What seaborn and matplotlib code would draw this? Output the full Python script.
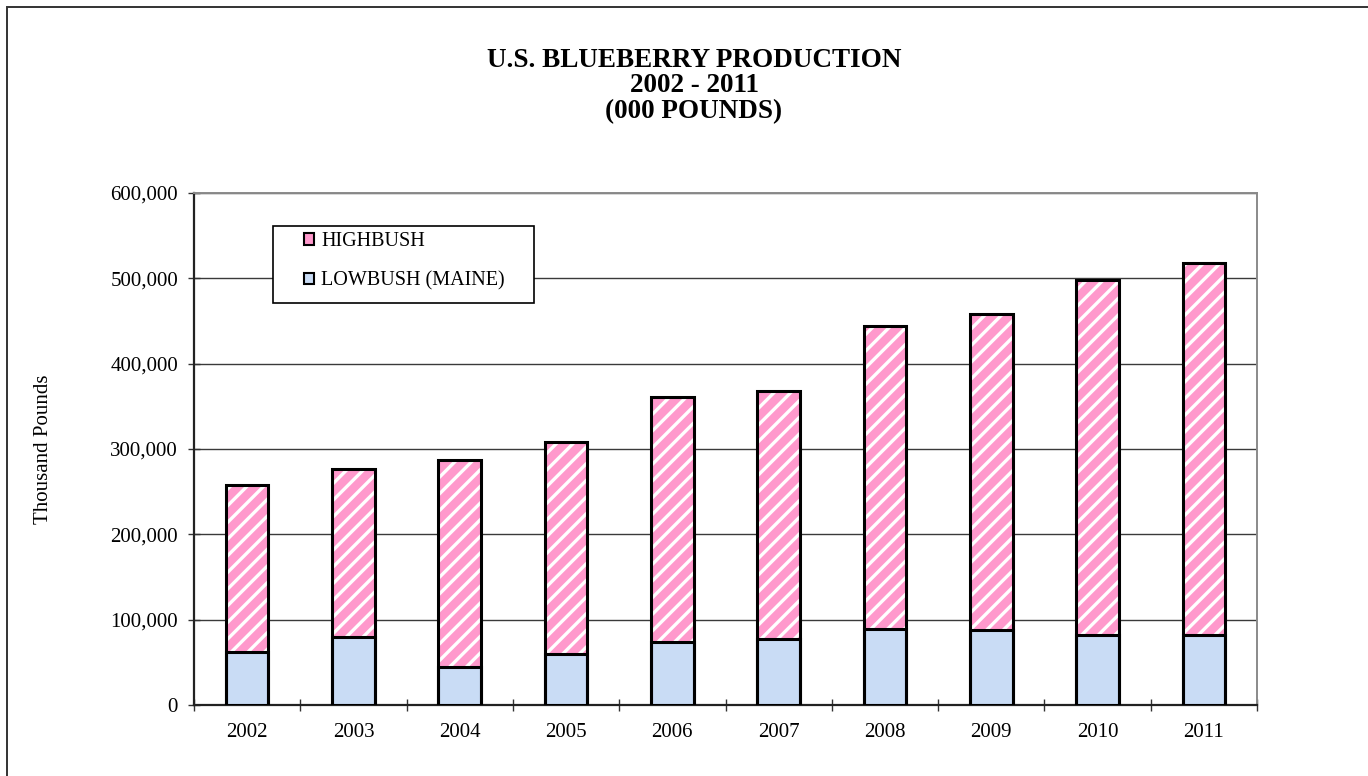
import matplotlib
matplotlib.use("Agg")
import matplotlib.pyplot as plt
from matplotlib.patches import Patch, Rectangle
from matplotlib.ticker import FuncFormatter, FixedLocator
import seaborn as sns

# values (thousand pounds)
YEARS = ["2002", "2003", "2004", "2005", "2006", "2007", "2008", "2009", "2010", "2011"]
LOWBUSH = [61700, 80000, 45000, 60000, 74000, 77000, 89500, 88000, 82500, 82500]
HIGHBUSH = [195800, 196000, 242000, 248000, 287000, 290500, 354500, 370000, 415500, 436000]
Y_TICKS = [0, 100000, 200000, 300000, 400000, 500000, 600000]

TITLE = "U.S. BLUEBERRY PRODUCTION\n2002 - 2011\n(000 POUNDS)"
Y_LABEL = "Thousand Pounds"
LEGEND_LABELS = ["HIGHBUSH", "LOWBUSH (MAINE)"]

PINK = "#FF99CC"
BLUE = "#C9DCF5"

sns.set_theme(style="white")
plt.rcParams["font.family"] = ["Liberation Serif", "DejaVu Serif"]
plt.rcParams["text.color"] = "black"
plt.rcParams["hatch.color"] = "white"
plt.rcParams["hatch.linewidth"] = 2.4

totals = [l + h for l, h in zip(LOWBUSH, HIGHBUSH)]

fig = plt.figure(figsize=(13.68, 7.76), dpi=100)
ax = fig.add_axes([194 / 1368, 1 - 705 / 776, 1063 / 1368, 512 / 776])

# highbush sits on top of lowbush: draw the full stack first, then the base
sns.barplot(x=YEARS, y=totals, color=PINK, saturation=1, width=0.4,
            edgecolor="white", linewidth=0, hatch="//", ax=ax, zorder=2)
sns.barplot(x=YEARS, y=LOWBUSH, color=BLUE, saturation=1, width=0.4,
            linewidth=0, ax=ax, zorder=3)
# black outlines
sns.barplot(x=YEARS, y=totals, color="black", fill=False, width=0.4,
            linewidth=2.2, ax=ax, zorder=4)
sns.barplot(x=YEARS, y=LOWBUSH, color="black", fill=False, width=0.4,
            linewidth=2.2, ax=ax, zorder=4)

ax.set_xlim(-0.5, len(YEARS) - 0.5)
ax.set_ylim(0, 600000)
ax.yaxis.set_major_locator(FixedLocator(Y_TICKS))
ax.yaxis.set_major_formatter(FuncFormatter(lambda v, _: f"{v:,.0f}"))
ax.grid(axis="y", color="#3a3a3a", linewidth=1.0)
ax.set_axisbelow(True)

ax.xaxis.set_minor_locator(FixedLocator([i - 0.5 for i in range(len(YEARS) + 1)]))
ax.tick_params(axis="x", which="major", length=0, pad=13, labelsize=15, labelcolor="black")
ax.tick_params(axis="x", which="minor", direction="inout", length=9, width=1.0,
               color="#333333", bottom=True)
ax.tick_params(axis="y", which="major", direction="inout", length=9, width=1.0,
               color="#333333", left=True, pad=7, labelsize=15, labelcolor="black")

ax.set_xlabel("")
ax.set_ylabel(Y_LABEL, fontsize=15, color="black")
ax.yaxis.set_label_coords((53 - 194) / 1063, 0.5)

for side in ["left", "bottom"]:
    ax.spines[side].set_color("#222222")
    ax.spines[side].set_linewidth(1.6)
for side in ["right", "top"]:
    ax.spines[side].set_visible(True)
    ax.spines[side].set_color("#8a8a8a")
    ax.spines[side].set_linewidth(1.4)

handles = [Patch(facecolor=PINK, edgecolor="black", linewidth=1.5),
           Patch(facecolor=BLUE, edgecolor="black", linewidth=1.5)]
ax.legend(handles, LEGEND_LABELS, loc="upper left",
          bbox_to_anchor=((304 - 194) / 1063, (705 - 232) / 512),
          frameon=False, fontsize=14.5, handlelength=0.5, handleheight=0.5,
          handletextpad=0.35, labelspacing=1.0, borderpad=0, borderaxespad=0)
ax.add_patch(Rectangle(((272.7 - 194) / 1063, (705 - 302.7) / 512),
                       (534 - 272.7) / 1063, (302.7 - 226) / 512,
                       transform=ax.transAxes, facecolor="white", edgecolor="black",
                       linewidth=1.2, zorder=5, clip_on=False))
ax.get_legend().set_zorder(6)

fig.text(694 / 1368, 1 - 86 / 776, TITLE, ha="center", va="center",
         fontsize=19.5, fontweight="bold", linespacing=1.05, color="black")

# outer chart border (right/bottom edges fall outside the image)
fig.patches.append(Rectangle((7 / 1368, -0.05), 1.2, 1 - 7 / 776 + 0.05,
                             transform=fig.transFigure, facecolor="none",
                             edgecolor="#333333", linewidth=1.4))

fig.savefig("out.png", dpi=100)
